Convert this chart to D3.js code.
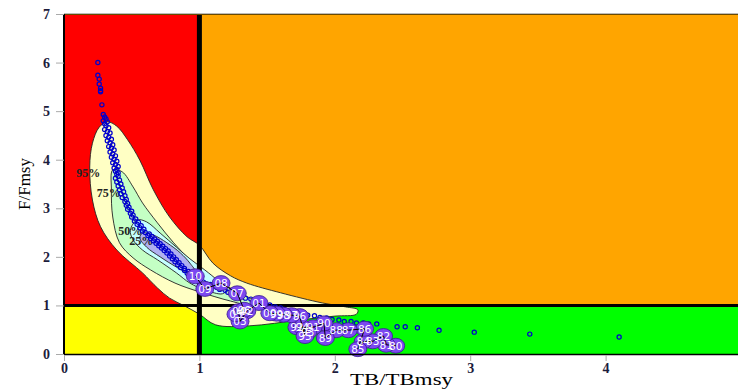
<!DOCTYPE html>
<html lang="en">
  <head>
    <meta charset="UTF-8" />
    <title>Kobe plot</title>
    <script src="https://d3js.org/d3.v7.min.js"></script>
    <style>
      body { margin: 0; background: #fff; }
      .tick text { font-family: "Liberation Serif", serif; font-weight: bold; font-size: 14px; fill: #1c1c3c; }
      .tick line { stroke: #aaa; }
      .axis-title { font-family: "Liberation Serif", serif; font-size: 17px; fill: #000; }
      .pct { font-family: "Liberation Serif", serif; font-weight: bold; font-size: 12px; fill: #222; }
      .yr { font-family: "DejaVu Sans", sans-serif; font-size: 10.5px; fill: #fff; text-anchor: middle; }
    </style>
  </head>
  <body>
    <svg id="kobe" width="738" height="390"></svg>

    <script>
      // contour polygons (TB/TBmsy, F/Fmsy)
      var contour95 = [[0.32,4.78],[0.39,4.69],[0.47,4.41],[0.56,3.99],[0.66,3.38],[0.78,2.82],[0.91,2.41],[1.00,2.24],[1.10,1.87],[1.23,1.61],[1.35,1.46],[1.60,1.26],[1.91,1.05],[2.08,0.97],[2.17,0.91],[2.16,0.82],[2.00,0.78],[1.74,0.70],[1.37,0.58],[1.12,0.60],[1.00,0.82],[0.89,0.99],[0.78,1.15],[0.69,1.36],[0.58,1.67],[0.39,2.14],[0.27,2.62],[0.21,3.17],[0.19,3.85],[0.21,4.34],[0.26,4.67]];
      var contour75 = [[0.36,3.79],[0.43,3.75],[0.51,3.44],[0.58,3.11],[0.69,2.70],[0.81,2.29],[0.93,1.94],[1.04,1.69],[1.19,1.42],[1.36,1.17],[1.45,1.05],[1.41,0.99],[1.23,1.09],[1.00,1.28],[0.82,1.46],[0.64,1.73],[0.51,1.98],[0.41,2.29],[0.36,2.82],[0.35,3.38]];
      var contour50 = [[0.54,2.76],[0.61,2.72],[0.71,2.49],[0.83,2.20],[0.93,1.96],[1.04,1.73],[1.14,1.50],[1.20,1.32],[1.17,1.24],[1.04,1.32],[0.93,1.46],[0.83,1.67],[0.69,1.94],[0.58,2.14],[0.51,2.35],[0.49,2.55]];
      var contour25 = [[0.58,2.49],[0.66,2.45],[0.76,2.29],[0.86,2.08],[0.93,1.87],[0.97,1.69],[0.93,1.65],[0.83,1.79],[0.71,2.00],[0.61,2.20],[0.56,2.39]];

      var pctLabels = ["95%", "75%", "50%", "25%"];
      var pctX = [0.18, 0.33, 0.49, 0.57];
      var pctY = [3.73, 3.31, 2.53, 2.33];

      // posterior draws
      var draws = [[0.25,6.00],[0.25,5.74],[0.26,5.66],[0.26,5.56],[0.27,5.47],[0.27,5.42],[0.27,5.40],[0.28,5.13],
        [0.29,4.93],[0.30,4.88],[0.31,4.84],[0.29,4.80],[0.32,4.78],[0.30,4.74],[0.31,4.70],[0.33,4.66],[0.30,4.62],[0.32,4.58],[0.34,4.55],[0.31,4.50],[0.33,4.46],[0.35,4.42],[0.32,4.39],[0.34,4.35],[0.36,4.31],[0.33,4.27],[0.35,4.24],[0.37,4.20],[0.34,4.16],[0.36,4.12],[0.38,4.08],[0.35,4.05],[0.37,4.01],[0.39,3.97],[0.36,3.94],[0.38,3.90],[0.40,3.86],[0.37,3.83],[0.39,3.80],[0.38,3.76],[0.40,3.73],[0.39,3.70],
        [0.40,3.66],[0.38,3.62],[0.41,3.58],[0.39,3.54],[0.42,3.50],[0.40,3.46],[0.43,3.42],[0.41,3.38],[0.44,3.34],[0.42,3.30],[0.45,3.26],[0.43,3.22],[0.46,3.18],[0.45,3.14],[0.47,3.10],[0.46,3.06],[0.48,3.02],[0.47,2.98],[0.50,2.94],[0.49,2.90],[0.51,2.86],[0.50,2.82],[0.53,2.78],[0.52,2.74],[0.55,2.71],[0.54,2.67],[0.57,2.64],[0.56,2.60],[0.59,2.57],[0.58,2.53],
        [0.60,2.50],[0.63,2.47],[0.62,2.44],[0.65,2.42],[0.64,2.38],[0.67,2.37],[0.66,2.33],[0.69,2.32],[0.68,2.28],[0.71,2.27],[0.70,2.23],[0.73,2.22],[0.72,2.18],[0.75,2.17],[0.74,2.13],[0.77,2.12],[0.76,2.08],[0.79,2.06],[0.78,2.02],[0.81,2.00],[0.80,1.96],[0.83,1.94],[0.82,1.90],[0.85,1.88],[0.84,1.84],[0.87,1.82],[0.86,1.78],[0.89,1.76],[0.89,1.72],[0.92,1.70],[0.91,1.66],[0.94,1.64],[0.94,1.60],[0.97,1.58],[0.97,1.54],[1.00,1.52],
        [1.00,1.49],[1.03,1.48],[1.05,1.44],[1.08,1.43],[1.10,1.39],[1.13,1.37],[1.15,1.33],[1.19,1.31],[1.21,1.27],[1.25,1.25],[1.27,1.21],[1.31,1.19],[1.34,1.15],[1.38,1.13],[1.41,1.09],[1.45,1.07],[1.48,1.03],[1.52,1.01],[1.56,0.97],[1.60,0.95],[1.63,0.91],[1.68,0.89],[1.71,0.86],[1.76,0.84],[1.80,0.80],[1.85,0.79],[1.89,0.75],[1.94,0.74],[1.98,0.71],[2.03,0.70],[2.07,0.67],[2.12,0.67],[2.16,0.64],[2.21,0.64],[2.25,0.62],[2.31,0.62],
        [2.46,0.56],[2.52,0.56],[2.61,0.54],[2.77,0.49],[3.03,0.45],[3.44,0.41],[4.10,0.35]];

      // yearly estimates
      var years = ["80","81","82","83","84","85","86","87","88","89","90","91","92","93","94","95","96","97","98","99","00","01","02","03","04","05","06","07","08","09","10"];
      var tb = [2.45,2.38,2.36,2.28,2.21,2.17,2.22,2.10,2.01,1.93,1.92,1.84,1.72,1.80,1.76,1.78,1.74,1.68,1.62,1.57,1.52,1.44,1.35,1.30,1.29,1.27,1.33,1.28,1.16,1.04,0.97];
      var ff = [0.17,0.19,0.37,0.26,0.26,0.10,0.52,0.49,0.49,0.33,0.63,0.55,0.55,0.45,0.55,0.37,0.78,0.80,0.81,0.83,0.84,1.05,0.88,0.67,0.88,0.82,0.91,1.25,1.46,1.34,1.60];

      var svg = d3.select("#kobe");
      var x = d3.scaleLinear().domain([0, 5]).range([64, 741]);
      var y = d3.scaleLinear().domain([0, 7]).range([354, 14]);

      // quadrants
      var quads = [
        { x0: 0, x1: 1, y0: 1, y1: 7, c: "#ff0000" },
        { x0: 1, x1: 5, y0: 1, y1: 7, c: "#ffa500" },
        { x0: 0, x1: 1, y0: 0, y1: 1, c: "#ffff00" },
        { x0: 1, x1: 5, y0: 0, y1: 1, c: "#00ff00" },
      ];
      svg.selectAll(".quad").data(quads).enter().append("rect")
        .attr("x", function (d) { return x(d.x0); })
        .attr("y", function (d) { return y(d.y1); })
        .attr("width", function (d) { return x(d.x1) - x(d.x0); })
        .attr("height", function (d) { return y(d.y0) - y(d.y1); })
        .attr("fill", function (d) { return d.c; });

      // contours
      var line = d3.line()
        .x(function (d) { return x(d[0]); })
        .y(function (d) { return y(d[1]); })
        .curve(d3.curveCatmullRomClosed);
      var contours = [contour95, contour75, contour50, contour25];
      var fills = ["#ffffc4", "#c4ffc4", "#c4ffff", "#b0b0f0"];
      svg.selectAll(".contour").data(contours).enter().append("path")
        .attr("d", line)
        .attr("fill", function (d, i) { return fills[i]; })
        .attr("stroke", "#222")
        .attr("stroke-width", 0.9);

      svg.selectAll(".pct").data(pctLabels).enter().append("text")
        .attr("class", "pct")
        .attr("text-anchor", "middle")
        .attr("x", function (d, i) { return x(pctX[i]); })
        .attr("y", function (d, i) { return y(pctY[i]) + 4; })
        .text(function (d) { return d; });

      // reference lines
      svg.append("line")
        .attr("x1", x(1)).attr("x2", x(1)).attr("y1", y(7)).attr("y2", y(0))
        .attr("stroke", "#000").attr("stroke-width", 5);
      svg.append("line")
        .attr("x1", x(0)).attr("x2", x(5)).attr("y1", y(1)).attr("y2", y(1))
        .attr("stroke", "#000").attr("stroke-width", 3);

      // draws
      svg.selectAll(".draw").data(draws).enter().append("circle")
        .attr("cx", function (d) { return x(d[0]); })
        .attr("cy", function (d) { return y(d[1]); })
        .attr("r", 2.1)
        .attr("fill", "none")
        .attr("stroke", "#0000cc")
        .attr("stroke-width", 1.2);

      // yearly points
      var pts = years.map(function (d, i) { return [tb[i], ff[i], d]; });
      svg.selectAll(".yp").data(pts).enter().append("ellipse")
        .attr("cx", function (d) { return x(d[0]); })
        .attr("cy", function (d) { return y(d[1]); })
        .attr("rx", 9)
        .attr("ry", 7.5)
        .attr("fill", "#7b48f0")
        .attr("stroke", "#3a1a90")
        .attr("stroke-width", 0.8);
      svg.append("path")
        .attr("d", d3.line().x(function (d) { return x(d[0]); }).y(function (d) { return y(d[1]); })(pts))
        .attr("fill", "none")
        .attr("stroke", "#000")
        .attr("stroke-width", 1);
      svg.selectAll(".yr").data(pts).enter().append("text")
        .attr("class", "yr")
        .attr("x", function (d) { return x(d[0]); })
        .attr("y", function (d) { return y(d[1]) + 4; })
        .text(function (d) { return d[2]; });

      // frame
      svg.append("line").attr("x1", 64).attr("x2", 741).attr("y1", 13.5).attr("y2", 13.5)
        .attr("stroke", "#bbb").attr("stroke-width", 1);
      svg.append("line").attr("x1", 64).attr("x2", 741).attr("y1", 14.5).attr("y2", 14.5)
        .attr("stroke", "#6b4a00").attr("stroke-width", 1);
      svg.append("line").attr("x1", 64).attr("x2", 64).attr("y1", 14).attr("y2", 355)
        .attr("stroke", "#000").attr("stroke-width", 2);
      svg.append("line").attr("x1", 64).attr("x2", 741).attr("y1", 354.5).attr("y2", 354.5)
        .attr("stroke", "#000").attr("stroke-width", 1.5);

      // axes
      var ya = svg.append("g").attr("transform", "translate(64,0)")
        .call(d3.axisLeft(y).ticks(7).tickSize(8).tickPadding(6).tickFormat(d3.format("d")));
      ya.select(".domain").remove();
      var xa = svg.append("g").attr("transform", "translate(0,355)")
        .call(d3.axisBottom(x).ticks(5).tickSize(6).tickPadding(2).tickFormat(d3.format("d")));
      xa.select(".domain").remove();

      svg.append("text")
        .attr("class", "axis-title")
        .attr("x", 350).attr("y", 385)
        .attr("textLength", 103)
        .attr("lengthAdjust", "spacingAndGlyphs")
        .text("TB/TBmsy");
      svg.append("text")
        .attr("class", "axis-title")
        .attr("transform", "translate(30,184) rotate(-90)")
        .attr("text-anchor", "middle")
        .text("F/Fmsy");
    </script>
  </body>
</html>
